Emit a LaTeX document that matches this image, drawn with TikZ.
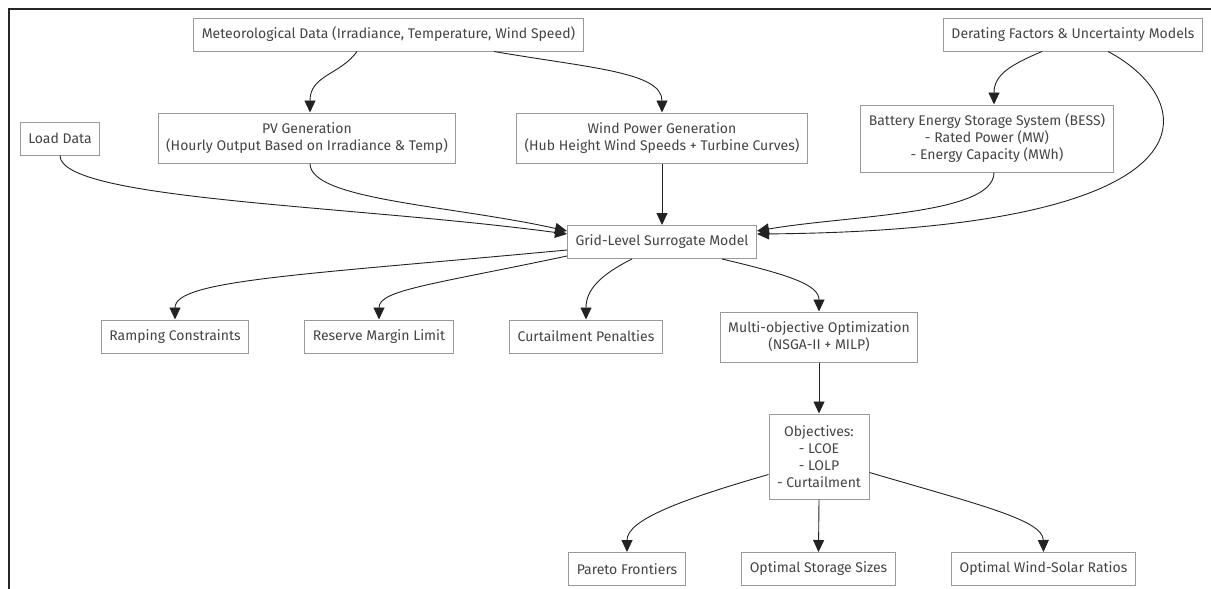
\documentclass[tikz,border=0pt]{standalone}
\usepackage{fontspec}
\setmainfont{Fira Sans}
\usetikzlibrary{arrows.meta}
\definecolor{boxline}{HTML}{9A9A9A}
\definecolor{boxtext}{HTML}{444444}
\definecolor{edgeline}{HTML}{222222}

\begin{document}
\begin{tikzpicture}[
x=1pt, y=-1pt, % one unit per pixel of the 1211x589 frame
>={Triangle[length=12pt,width=11pt]},
flow/.style={->, draw=edgeline, line width=0.9pt},
every node/.style={draw=boxline, fill=white, text=boxtext, line width=1pt,
  font=\fontsize{14}{17}\selectfont, align=center,
  inner xsep=8pt, inner ysep=0pt, minimum height=33pt}
]
\useasboundingbox (0,0) rectangle (1211,589);

% Frame of the screenshot
\draw[line width=2pt, black!85] (1211,9) -- (9,9) -- (9,589);

% ================= Inputs =================
\node (meteo) at (388.5,34.5) {Meteorological Data (Irradiance, Temperature, Wind Speed)};
\node (derate) at (1073,34.5) {Derating Factors \& Uncertainty Models};
\node (load) at (60,138.5) {Load Data};
\node[minimum height=50pt] (pv) at (307,138) {PV Generation\\(Hourly Output Based on Irradiance \& Temp)};
\node[minimum height=50pt] (wind) at (662,138) {Wind Power Generation\\(Hub Height Wind Speeds + Turbine Curves)};
\node[minimum height=67pt] (bess) at (987,138.5) {Battery Energy Storage System (BESS)\\- Rated Power (MW)\\- Energy Capacity (MWh)};

% ================= Model and constraints =================
\node (surr) at (662,242) {Grid-Level Surrogate Model};
\node (ramp) at (175,336.5) {Ramping Constraints};
\node (reserve) at (379,336.5) {Reserve Margin Limit};
\node (curtail) at (586,336.5) {Curtailment Penalties};
\node[minimum height=50pt] (moo) at (819,337) {Multi-objective Optimization\\(NSGA-II + MILP)};

% ================= Outputs =================
\node[minimum height=85pt] (obj) at (819,456.5) {Objectives:\\- LCOE\\- LOLP\\- Curtailment};
\node (pareto) at (627,569) {Pareto Frontiers};
\node (storage) at (818.5,569) {Optimal Storage Sizes};
\node (ratio) at (1043.5,569) {Optimal Wind-Solar Ratios};

% ================= Edges =================

% Weather data feeding the generation models
\draw[flow] ([xshift=-31.5pt]meteo.south) .. controls (340,75) and (310,75) .. ([xshift=3pt]pv.north);
\draw[flow] ([xshift=105.5pt]meteo.south) .. controls (590,68) and (662,72) .. (wind.north);

% Derating to storage and straight to the model
\draw[flow] ([xshift=-31pt]derate.south) .. controls (1010,65) and (994,75) .. ([xshift=7pt]bess.north);
\draw[flow] ([xshift=35pt]derate.south) .. controls (1200,100) and (1230,230) .. ([yshift=8pt]surr.east);

% Everything into the surrogate model
\draw[flow] (load.south) .. controls (60,200) and (350,205) .. ([yshift=8pt]surr.west);
\draw[flow] ([xshift=3pt]pv.south) .. controls (310,200) and (450,205) .. ([yshift=11pt]surr.west);
\draw[flow] (wind.south) -- (surr.north);
\draw[flow] ([xshift=7pt]bess.south) .. controls (994,215) and (850,215) .. ([yshift=11pt]surr.east);

% Model out to constraints and optimizer
\draw[flow] ([yshift=-8pt]surr.west) .. controls (300,275) and (175,280) .. (ramp.north);
\draw[flow] ([yshift=-14pt]surr.west) .. controls (430,285) and (379,290) .. (reserve.north);
\draw[flow] ([xshift=-30pt]surr.south) .. controls (600,275) and (586,290) .. (curtail.north);
\draw[flow] ([xshift=60pt]surr.south) .. controls (790,275) and (819,285) .. (moo.north);

% Optimizer to objectives and results
\draw[flow] (moo.south) -- (obj.north);
\draw[flow] ([yshift=-18pt]obj.west) .. controls (680,500) and (627,520) .. (pareto.north);
\draw[flow] (obj.south) -- (storage.north);
\draw[flow] ([yshift=-16pt]obj.east) .. controls (980,505) and (1043,520) .. (ratio.north);

\end{tikzpicture}
\end{document}
